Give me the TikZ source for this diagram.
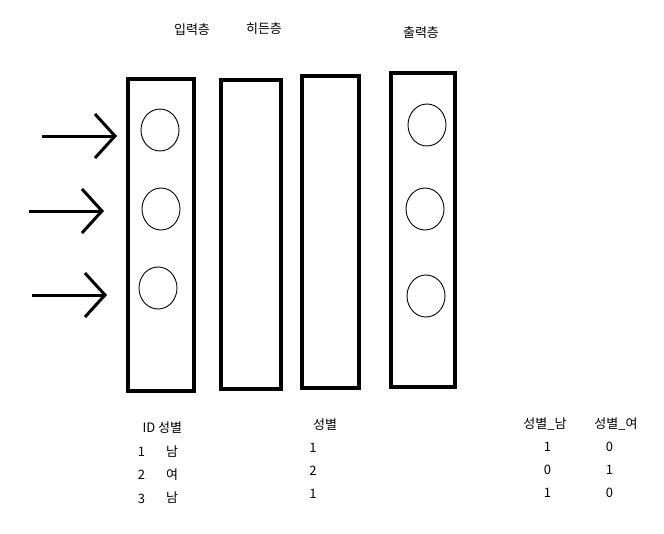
\documentclass[tikz,border=0pt]{standalone}
\usepackage{fontspec}
\setmainfont{Noto Sans CJK KR}
\usetikzlibrary{arrows.meta,shapes.geometric,positioning}

\begin{document}
\begin{tikzpicture}[
    x = 1pt, y = -1pt, % pixel units, y pointing down
    > = {Straight Barb[length=20pt,width=44pt]}, % open arrow head
    line join = miter,
    font = \fontsize{13}{15}\selectfont
    ]

    \tikzset{
    layer/.style = {draw = black, line width = 4pt, inner sep = 0pt},
    unit/.style = {ellipse, draw = black, line width = 0.9pt,
        minimum width = 38pt, minimum height = 42pt, inner sep = 0pt},
    feed/.style = {->, line width = 3pt}
    }

    \useasboundingbox (0,0) rectangle (664,533);

    % layers
    \node[layer, minimum width=66.5pt, minimum height=312pt] (inp) at (160.75,234.85) {};
    \node[layer, minimum width=60pt, minimum height=309pt] (hid1) at (251,234.5) {};
    \node[layer, minimum width=57pt, minimum height=312pt] (hid2) at (330.5,232.2) {};
    \node[layer, minimum width=64pt, minimum height=314pt] (outp) at (423,230.2) {};

    % units
    \node[unit] (x1) at (160,130) {};
    \node[unit] (x2) at (161,209) {};
    \node[unit] (x3) at (158,288) {};
    \node[unit] (y1) at (427,125) {};
    \node[unit] (y2) at (425,209) {};
    \node[unit] (y3) at (426,296) {};

    \node (tin) at (192,30) {입력층};
    \node (thid) at (264,29) {히든층};
    \node (tout) at (421,33) {출력층};

    % inputs
    \coordinate (a1) at (42,136);  \coordinate (b1) at (117,136);
    \coordinate (a2) at (29,211);  \coordinate (b2) at (104,211);
    \coordinate (a3) at (32,295);  \coordinate (b3) at (107,295);
    \draw[feed] (a1) -- (b1);
    \draw[feed] (a2) -- (b2);
    \draw[feed] (a3) -- (b3);

    % raw data
    \node[anchor=west] (hd1) at (139,428) {ID 성별};
    \node (id1) at (141.5,452) {1};
    \node (id2) at (141.5,475) {2};
    \node (id3) at (141.5,499) {3};
    \node (g1) at (172,452) {남};
    \node (g2) at (172,475) {여};
    \node (g3) at (172,498) {남};

    % label encoding
    \node (hd2) at (325,425) {성별};
    \node (c1) at (313,448) {1};
    \node (c2) at (313,471) {2};
    \node (c3) at (313,494) {1};

    % one-hot encoding
    \node (hd3) at (545,424) {성별\_남};
    \node (hd4) at (616,424) {성별\_여};
    \node (m1) at (547.5,447) {1};
    \node (m2) at (547.5,470) {0};
    \node (m3) at (547.5,493) {1};
    \node (f1) at (609.5,447) {0};
    \node (f2) at (609.5,470) {1};
    \node (f3) at (609.5,493) {0};
\end{tikzpicture}
\end{document}
